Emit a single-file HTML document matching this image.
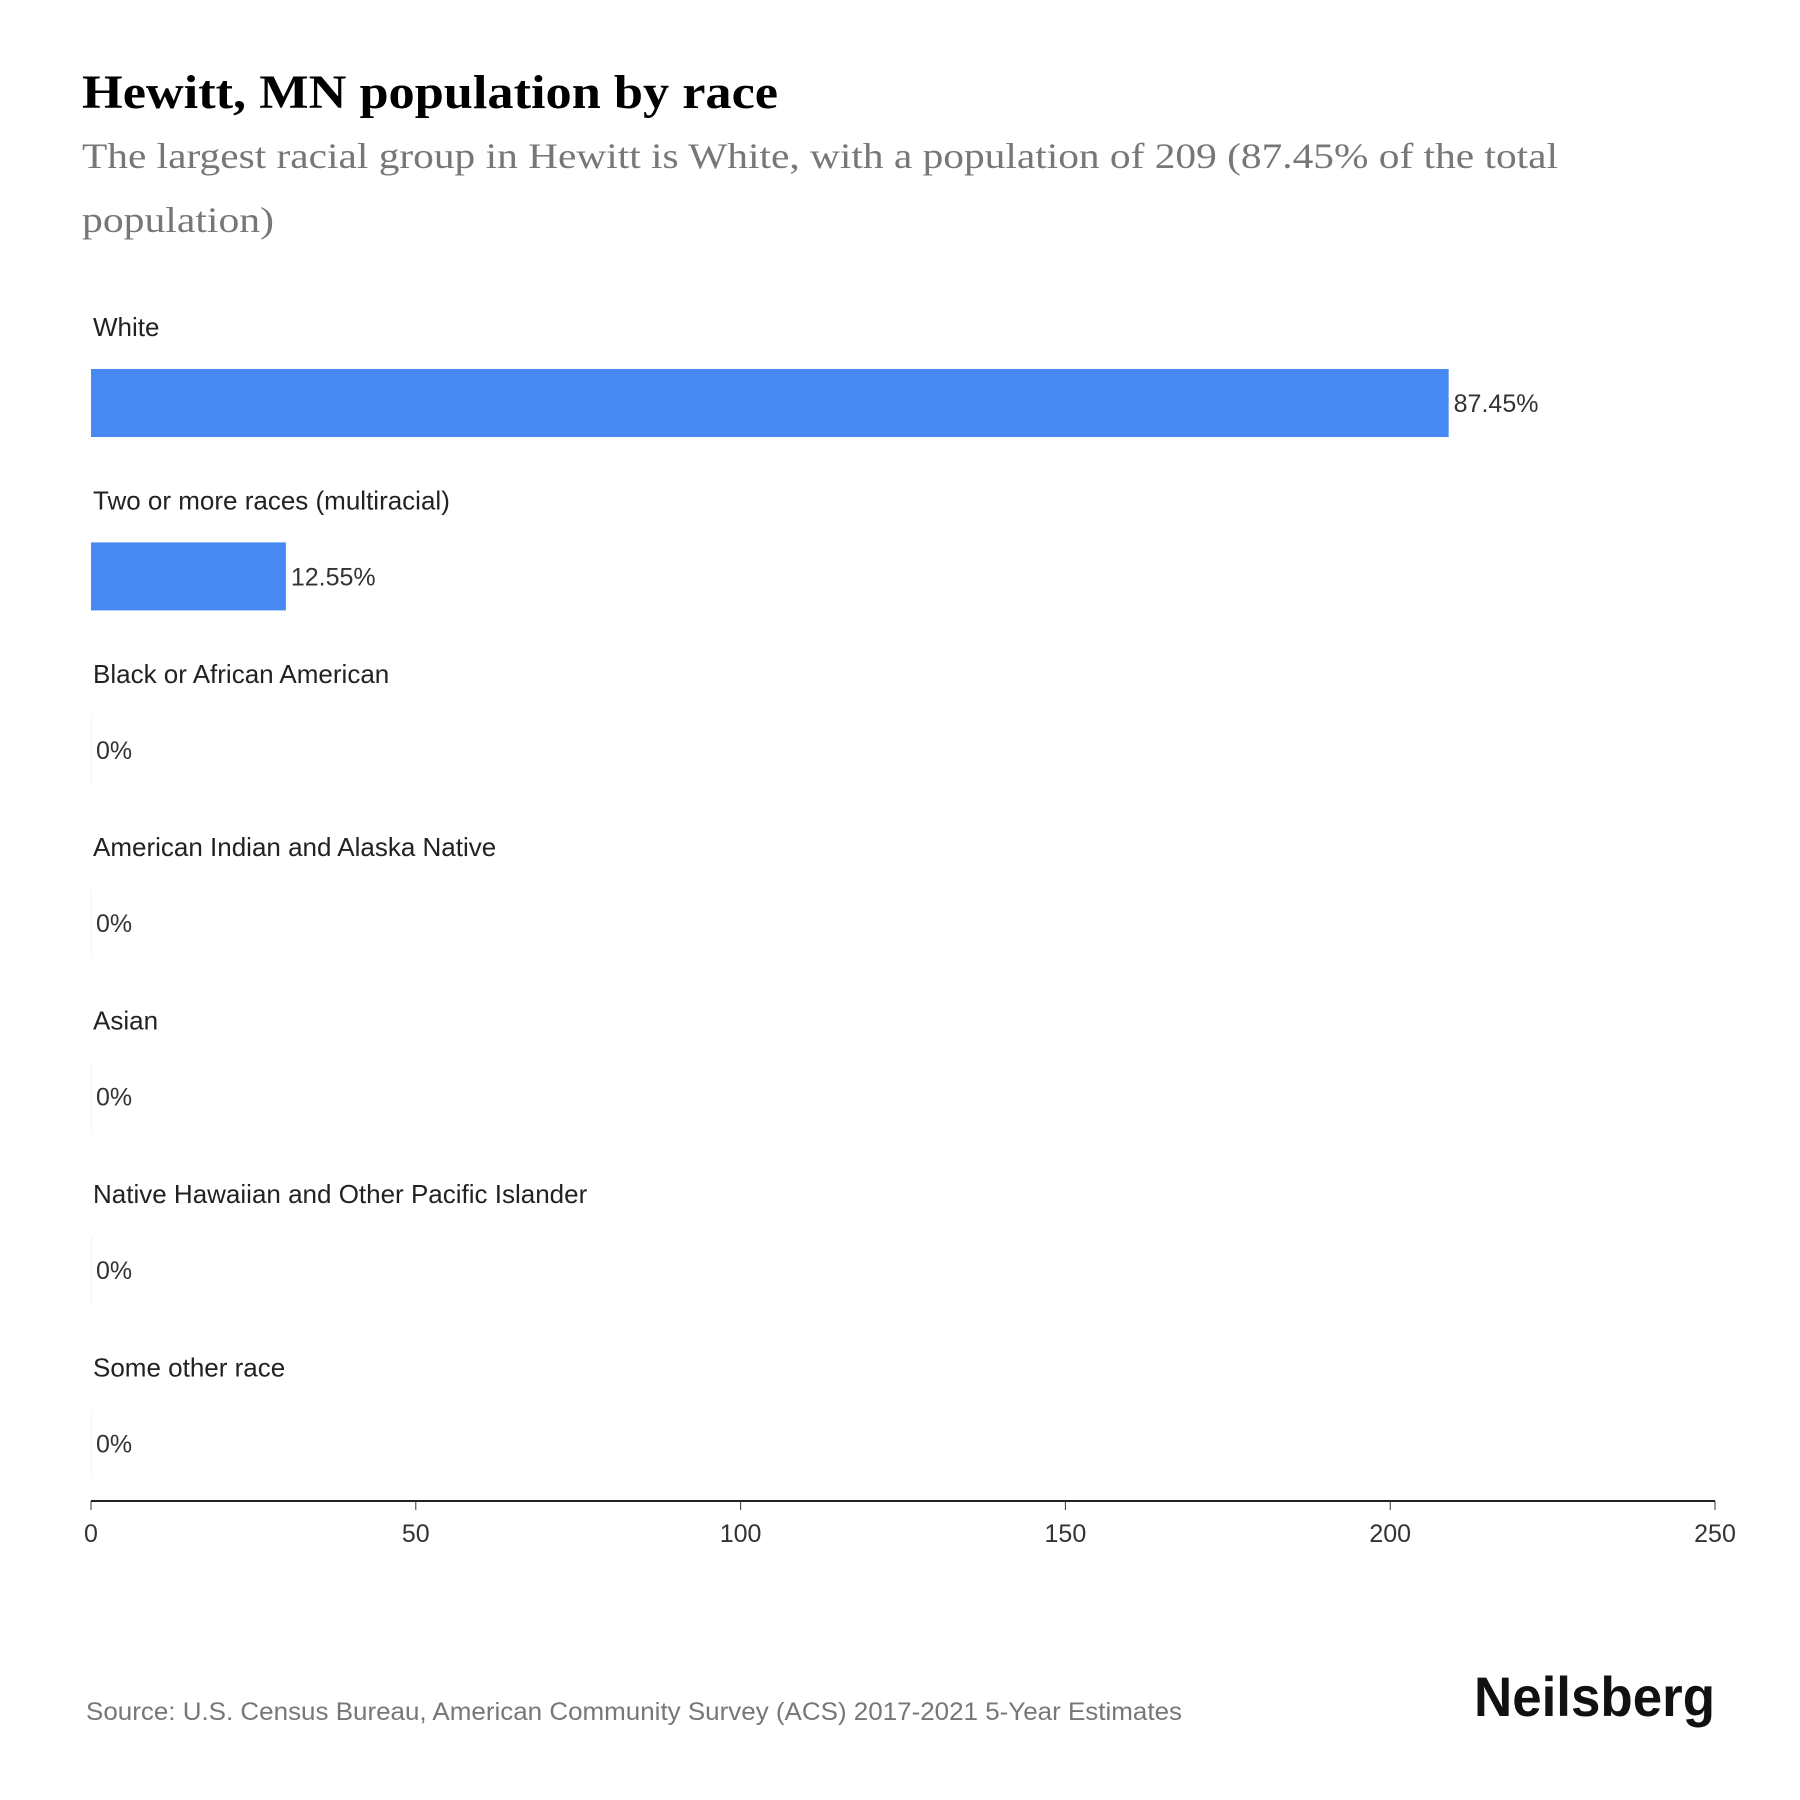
<!DOCTYPE html>
<html><head><meta charset="utf-8"><style>
body{margin:0;background:#fff;width:1800px;height:1800px;overflow:hidden;}
svg{display:block}
</style></head><body>
<svg width="1800" height="1800" xmlns="http://www.w3.org/2000/svg">
<text x="82" y="108" font-family="Liberation Serif, serif" font-weight="bold" font-size="48" fill="#000" textLength="696" lengthAdjust="spacingAndGlyphs">Hewitt, MN population by race</text>
<text x="82" y="168" font-family="Liberation Serif, serif" font-size="36" fill="#777" textLength="1476" lengthAdjust="spacingAndGlyphs">The largest racial group in Hewitt is White, with a population of 209 (87.45% of the total</text>
<text x="82" y="232" font-family="Liberation Serif, serif" font-size="36" fill="#777" textLength="192" lengthAdjust="spacingAndGlyphs">population)</text>
<g id="bars"></g>
<g id="axis"></g>
<text x="86" y="1720" font-family="Liberation Sans, sans-serif" font-size="25" fill="#777" textLength="1096" lengthAdjust="spacingAndGlyphs">Source: U.S. Census Bureau, American Community Survey (ACS) 2017-2021 5-Year Estimates</text>
<text x="1474" y="1716" font-family="Liberation Sans, sans-serif" font-weight="bold" font-size="56" fill="#111" textLength="241" lengthAdjust="spacingAndGlyphs">Neilsberg</text>
</svg>
<script>
const categories=["White","Two or more races (multiracial)","Black or African American","American Indian and Alaska Native","Asian","Native Hawaiian and Other Pacific Islander","Some other race"];
const values=[209,30,0,0,0,0,0];
const percentLabels=["87.45%","12.55%","0%","0%","0%","0%","0%"];
const ticks=[0,50,100,150,200,250];
const NS="http://www.w3.org/2000/svg";
const x0=91,x1=1715,maxV=250,axisY=1501;
const xs=v=>x0+(x1-x0)*v/maxV;
const rowY=i=>369+i*173.4;
const bars=document.getElementById('bars');
function mk(tag,attrs,parent){const e=document.createElementNS(NS,tag);for(const k in attrs)e.setAttribute(k,attrs[k]);parent.appendChild(e);return e;}
categories.forEach((c,i)=>{
  const y=rowY(i);
  const lab=mk('text',{x:93,y:y-33,'font-family':'Liberation Sans, sans-serif','font-size':26,fill:'#222'},bars);
  lab.textContent=c;
  
  
  const w=xs(values[i])-x0;
  const r=mk('rect',{x:x0,y:y,width:Math.max(w,1),height:68,fill:w>0?'#4689f2':'#f4f4f4'},bars);
  
  
  const v=mk('text',{x:x0+w+5,y:y+43,'font-family':'Liberation Sans, sans-serif','font-size':25,fill:'#333'},bars);
  v.textContent=percentLabels[i];
  
  
});
const ax=document.getElementById('axis');
const line=mk('line',{x1:x0,x2:x1,y1:axisY,y2:axisY,stroke:'#222','stroke-width':2},ax);


ticks.forEach(t=>{
  const tk=mk('line',{x1:xs(t),x2:xs(t),y1:axisY,y2:axisY+9,stroke:'#333','stroke-width':1},ax);
  
  
  const tl=mk('text',{x:xs(t),y:axisY+41,'text-anchor':'middle','font-family':'Liberation Sans, sans-serif','font-size':25,fill:'#333'},ax);
  tl.textContent=t;
  
  
});
</script>
</body></html>
